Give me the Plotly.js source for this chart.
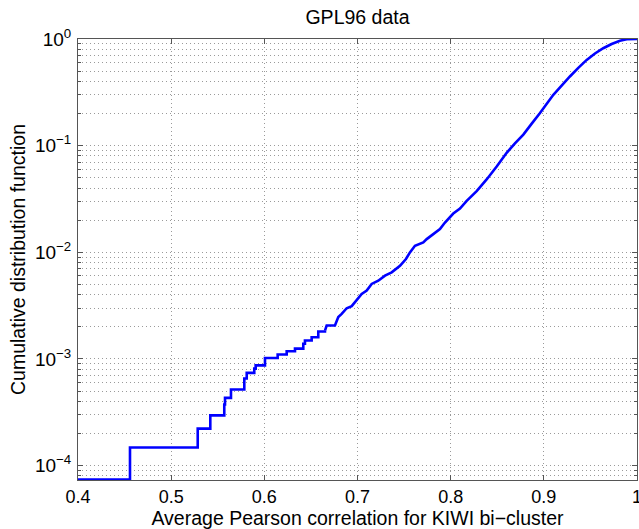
<!DOCTYPE html>
<html>
<head>
<meta charset="utf-8">
<script src="https://cdn.plot.ly/plotly-3.0.1.min.js"></script>
<style>html,body{margin:0;padding:0;background:#fff;}#chart{width:639px;height:529px;}</style>
</head>
<body>
<div id="chart"></div>
<script>
// Empirical (stepped) lower part of the CDF
const stepX = [0.400, 0.4558, 0.5285, 0.5420, 0.5570, 0.5578, 0.5642, 0.5785, 0.5811, 0.5892, 0.5907, 0.6007, 0.6143, 0.6240, 0.6329, 0.6418, 0.6436, 0.6508, 0.6579, 0.6651];
const stepCdf = [7.41e-5, 1.48e-4, 2.22e-4, 2.96e-4, 3.74e-4, 4.32e-4, 5.17e-4, 6.55e-4, 7.40e-4, 8.11e-4, 8.71e-4, 1.02e-3, 1.10e-3, 1.18e-3, 1.25e-3, 1.39e-3, 1.49e-3, 1.60e-3, 1.81e-3, 1.84e-3];
// Dense upper part of the CDF
const curveX = [0.6651, 0.6669, 0.6758, 0.6794, 0.6830, 0.6884, 0.6938, 0.6991, 0.7045, 0.7099, 0.7152, 0.7223, 0.7295, 0.7367, 0.7456, 0.7520, 0.7563, 0.7617, 0.7706, 0.7743, 0.7814, 0.7885, 0.7939, 0.8028, 0.8100, 0.8172, 0.8279, 0.8386, 0.8494, 0.8601, 0.8690, 0.8780, 0.8870, 0.8959, 0.9102, 0.9191, 0.9280, 0.9370, 0.9460, 0.9549, 0.9638, 0.9728, 0.9817, 0.9890, 1.0000];
const curveCdf = [1.84e-3, 2.06e-3, 2.06e-3, 2.47e-3, 2.65e-3, 2.99e-3, 3.13e-3, 3.53e-3, 4.07e-3, 4.37e-3, 5.05e-3, 5.42e-3, 6.04e-3, 6.49e-3, 7.48e-3, 8.65e-3, 9.98e-3, 1.15e-2, 1.24e-2, 1.33e-2, 1.48e-2, 1.65e-2, 1.90e-2, 2.31e-2, 2.57e-2, 3.03e-2, 3.75e-2, 4.82e-2, 6.38e-2, 8.57e-2, 0.105, 0.127, 0.161, 0.202, 0.300, 0.368, 0.445, 0.536, 0.637, 0.732, 0.819, 0.898, 0.964, 0.994, 1.0];

const xTicks = [0.4, 0.5, 0.6, 0.7, 0.8, 0.9, 1];
const xTickText = ['0.4', '0.5', '0.6', '0.7', '0.8', '0.9', '1'];
const yTicks = [1e-4, 1e-3, 1e-2, 1e-1, 1];
const yTickText = ['10<sup>−4</sup>', '10<sup>−3</sup>', '10<sup>−2</sup>', '10<sup>−1</sup>', '10<sup>0</sup>'];

const yMinor = [];
for (let e = -5; e < 0; e++) for (let m = 2; m <= 9; m++) yMinor.push(m * Math.pow(10, e));

const lineStyle = {color: '#0000ff', width: 2.6};
const traces = [
  {x: stepX, y: stepCdf, type: 'scatter', mode: 'lines', line: Object.assign({shape: 'hv'}, lineStyle), hoverinfo: 'skip'},
  {x: curveX, y: curveCdf, type: 'scatter', mode: 'lines', line: Object.assign({shape: 'linear'}, lineStyle), hoverinfo: 'skip'}
];

const fontFam = 'Liberation Sans, Arial, Helvetica, sans-serif';
const gridCol = '#9a9a9a';
const gridDash = '1px,3px';
const layout = {
  width: 639, height: 529,
  margin: {l: 78, r: 2, t: 39, b: 49},
  paper_bgcolor: '#ffffff', plot_bgcolor: '#ffffff',
  showlegend: false,
  font: {family: fontFam, size: 18, color: '#000'},
  title: {text: 'GPL96 data', x: 0.5, xref: 'paper', yref: 'container', y: 0.968, yanchor: 'middle', font: {family: fontFam, size: 19.5, color: '#000'}},
  xaxis: {
    range: [0.4, 1.0], tickvals: xTicks, ticktext: xTickText,
    ticks: 'inside', ticklen: 5, tickcolor: '#555', showline: true, linecolor: '#555', linewidth: 1, mirror: 'ticks',
    showgrid: true, gridcolor: gridCol, griddash: gridDash, gridwidth: 1, zeroline: false,
    tickfont: {size: 18}, ticklabelstandoff: 0, ticklabeloverflow: 'allow',
    title: {text: 'Average Pearson correlation for KIWI bi−cluster', font: {size: 19.5}, standoff: 0}
  },
  yaxis: {
    type: 'log', range: [-4.135, 0], tickvals: yTicks, ticktext: yTickText,
    ticks: 'inside', ticklen: 5, tickcolor: '#555', showline: true, linecolor: '#555', linewidth: 1, mirror: 'ticks',
    showgrid: true, gridcolor: gridCol, griddash: gridDash, gridwidth: 1, zeroline: false,
    tickfont: {size: 19}, ticklabelstandoff: 2, ticklabeloverflow: 'allow',
    minor: {tickvals: yMinor, ticks: 'inside', ticklen: 3, tickcolor: '#555', showgrid: true, gridcolor: gridCol, griddash: gridDash, gridwidth: 1},
    title: {text: 'Cumulative distribution function', font: {size: 19.5}, standoff: 4}
  }
};

Plotly.newPlot('chart', traces, layout, {staticPlot: true, displayModeBar: false});
</script>
</body>
</html>
